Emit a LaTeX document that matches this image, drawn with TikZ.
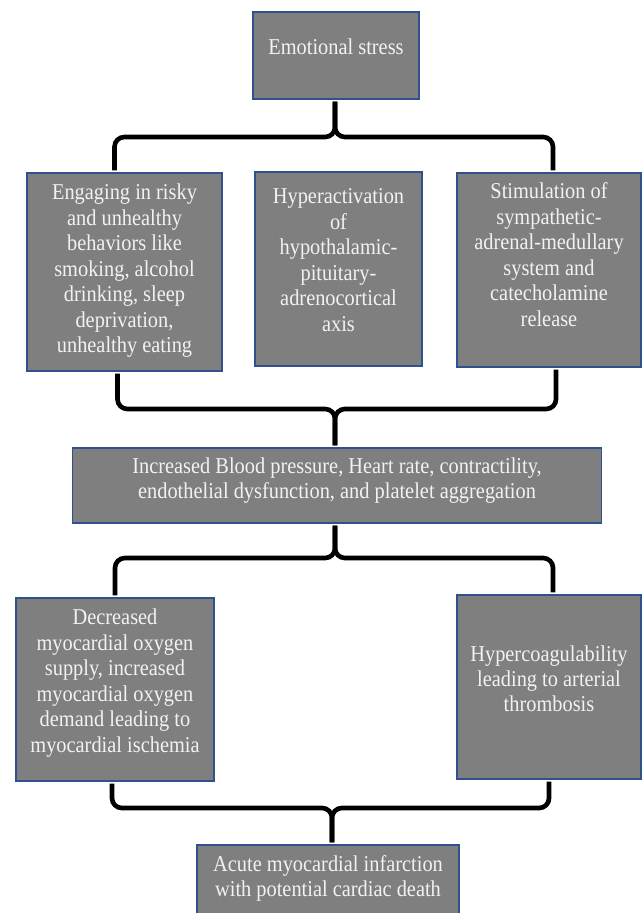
\documentclass[tikz,border=0pt]{standalone}
\usepackage{fontspec}
\setmainfont{Liberation Serif}[FakeStretch=0.9]
\usepackage{tikz}

\definecolor{boxgray}{HTML}{7F7F7F}
\definecolor{boxline}{HTML}{2F528F}
\definecolor{boxtext}{HTML}{F2F2F2}

\begin{document}
\begin{tikzpicture}[x=0.025cm,y=-0.025cm]
		\tikzstyle{gray-box}=[draw=boxline,fill=boxgray,text=boxtext,line width=0.8pt,inner sep=0pt,font=\fontsize{16.1}{18.1}\selectfont]
		\tikzstyle{brace}=[line width=3.3pt,rounded corners=7pt,shorten <=1.5pt,shorten >=1.5pt]
		\useasboundingbox (0,0) rectangle (642,913);
		% stress
		\node [gray-box] at (336,55.5) (stress) {\parbox[c][2.175cm][t]{4.15cm}{\centering\rule{0pt}{1.075cm}Emotional stress}};
		% three pathways
		\node [gray-box] at (124.5,272) (risky) {\parbox[c][4.95cm][t]{4.875cm}{\centering\rule{0pt}{0.675cm}Engaging in risky\\and unhealthy\\behaviors like\\smoking, alcohol\\drinking, sleep\\deprivation,\\unhealthy eating}};
		\node [gray-box] at (338.5,269) (hpa) {\parbox[c][4.85cm][t]{4.175cm}{\centering\rule{0pt}{0.8cm}Hyperactivation\\of\\hypothalamic-\\pituitary-\\adrenocortical\\axis}};
		\node [gray-box] at (549,270) (sam) {\parbox[c][4.85cm][t]{4.6cm}{\centering\rule{0pt}{0.65cm}Stimulation of\\sympathetic-\\adrenal-medullary\\system and\\catecholamine\\release}};
		% effects
		\node [gray-box] at (337,485.5) (bp) {\parbox[c][1.875cm][t]{13.2cm}{\centering\rule{0pt}{0.625cm}Increased Blood pressure, Heart rate, contractility,\\endothelial dysfunction, and platelet aggregation}};
		\node [gray-box] at (115,689.5) (ischemia) {\parbox[c][4.575cm][t]{4.95cm}{\centering\rule{0pt}{0.675cm}Decreased\\myocardial oxygen\\supply, increased\\myocardial oxygen\\demand leading to\\myocardial ischemia}};
		\node [gray-box] at (549,687) (thrombosis) {\parbox[c][4.6cm][t]{4.6cm}{\centering\rule{0pt}{1.65cm}Hypercoagulability\\leading to arterial\\thrombosis}};
		% outcome
		\node [gray-box] at (328,882.5) (ami) {\parbox[c][1.875cm][t]{6.55cm}{\centering\rule{0pt}{0.65cm}Acute myocardial infarction\\with potential cardiac death}};
		% braces
		\coordinate (j1) at (335,137);
		\coordinate (j2) at (335,409);
		\coordinate (j3) at (335,558);
		\coordinate (j4) at (332,808);
		\draw [brace] ([xshift=-0.25cm]risky.north) |- (j1) -- (j1 |- stress.south);
		\draw [brace] ([xshift=0.1cm]sam.north) |- (j1) -- (j1 |- stress.south);
		\draw [brace] ([xshift=-0.175cm]risky.south) |- (j2) -- (j2 |- bp.north);
		\draw [brace] ([xshift=0.175cm]sam.south) |- (j2) -- (j2 |- bp.north);
		\draw [brace] (j3 |- bp.south) -- (j3) -| (ischemia.north);
		\draw [brace] (j3 |- bp.south) -- (j3) -| ([xshift=0.1cm]thrombosis.north);
		\draw [brace] ([xshift=-0.075cm]ischemia.south) |- (j4) -- (j4 |- ami.north);
		\draw [brace] (thrombosis.south) |- (j4) -- (j4 |- ami.north);
	\end{tikzpicture}
\end{document}
